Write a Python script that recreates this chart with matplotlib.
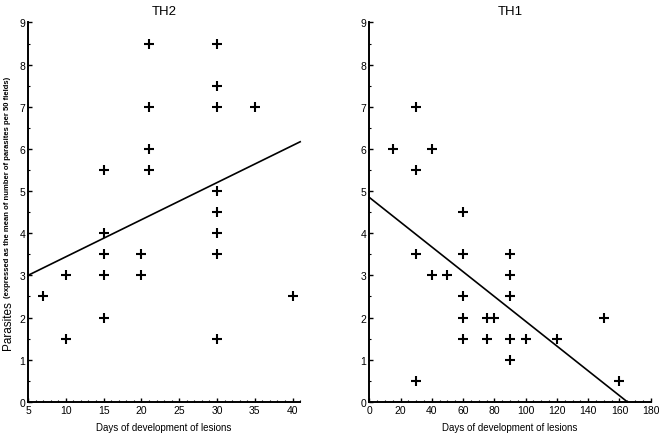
import matplotlib
matplotlib.use('Agg')
import matplotlib.pyplot as plt
from matplotlib.ticker import MultipleLocator

plt.rcParams['font.family'] = ['Liberation Sans', 'DejaVu Sans']

# TH2 data (days, parasites)
th2_days = [7, 10, 10, 15, 15, 15, 15, 15, 20, 20, 21, 21, 21, 21,
            30, 30, 30, 30, 30, 30, 30, 30, 35, 40]
th2_parasites = [2.5, 3, 1.5, 5.5, 4, 3.5, 3, 2, 3.5, 3, 8.5, 7, 6, 5.5,
                 8.5, 7.5, 7, 5, 4.5, 4, 3.5, 1.5, 7, 2.5]
th2_fit_x = [5, 41]
th2_fit_y = [3.0, 6.17]

# TH1 data
th1_days = [15, 30, 30, 30, 30, 40, 40, 50, 60, 60, 60, 60, 60,
            75, 75, 80, 90, 90, 90, 90, 90, 100, 120, 150, 160]
th1_parasites = [6, 7, 5.5, 3.5, 0.5, 6, 3, 3, 4.5, 3.5, 2.5, 2, 1.5,
                 2, 1.5, 2, 3.5, 3, 2.5, 1.5, 1, 1.5, 1.5, 2, 0.5]
th1_fit_x = [0, 165]
th1_fit_y = [4.85, 0.0]

fig = plt.figure(figsize=(6.59, 4.35), dpi=100)
ax1 = fig.add_axes([0.0425, 0.074, 0.413, 0.872])
ax2 = fig.add_axes([0.5604, 0.074, 0.427, 0.872])


def style(ax, title, xmajor, xminor):
    for s in ['top', 'right']:
        ax.spines[s].set_visible(False)
    for s in ['left', 'bottom']:
        ax.spines[s].set_linewidth(1.4)
    ax.set_ylim(0, 9)
    ax.yaxis.set_major_locator(MultipleLocator(1))
    ax.yaxis.set_minor_locator(MultipleLocator(0.5))
    ax.xaxis.set_major_locator(MultipleLocator(xmajor))
    ax.xaxis.set_minor_locator(MultipleLocator(xminor))
    ax.tick_params(which='major', direction='in', length=3, width=1,
                   labelsize=7.5, pad=2)
    ax.tick_params(which='minor', direction='in', length=1.5, width=0.8)
    ax.set_title(title, fontsize=9.5, pad=6)
    ax.set_xlabel('Days of development of lesions', fontsize=7, labelpad=5)


ax1.plot(th2_days, th2_parasites, linestyle='none', marker='+', ms=6.5,
         mew=1.5, color='black', clip_on=False)
ax1.plot(th2_fit_x, th2_fit_y, color='black', linewidth=1.2, clip_on=False)
ax1.set_xlim(5, 41)
style(ax1, 'TH2', 5, 1)

ax2.plot(th1_days, th1_parasites, linestyle='none', marker='+', ms=6.5,
         mew=1.5, color='black', clip_on=False)
ax2.plot(th1_fit_x, th1_fit_y, color='black', linewidth=1.2, clip_on=False)
ax2.set_xlim(0, 180)
style(ax2, 'TH1', 20, 5)

# y label: larger "Parasites" followed by smaller parenthetical
t1 = fig.text(0.012, 0.195, 'Parasites', rotation=90, fontsize=8.5,
              ha='center', va='bottom')
fig.canvas.draw()
bb = t1.get_window_extent()
fig.text(0.012, (bb.y1 + 3) / fig.bbox.height,
         '(expressed as the mean of number of parasites per 50 fields)',
         rotation=90, fontsize=5.5, fontweight='bold', ha='center', va='bottom')

plt.savefig('out.png', dpi=100, facecolor='white')
plt.close()
